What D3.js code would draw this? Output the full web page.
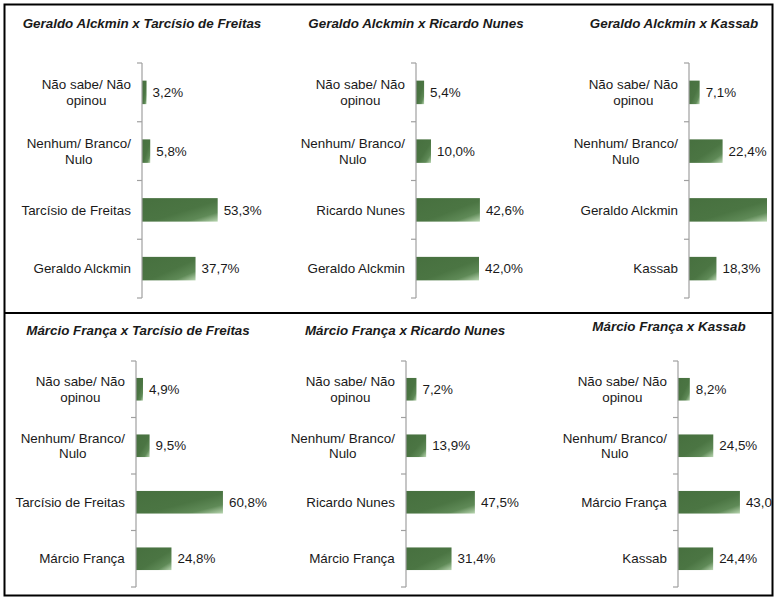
<html>
<head>
<meta charset="utf-8">
<title>Pesquisa - segundo turno</title>
<script src="https://d3js.org/d3.v7.min.js"></script>
<style>
	body { margin:0; background:#fff; }
	svg text { font-family: "Liberation Sans", Arial, sans-serif; fill:#1a1a1a; }
	.title { font-weight:bold; font-style:italic; font-size:13.4px; }
	.cat, .val { font-size:13.4px; }
</style>
</head>
<body>
<svg width=777 height=599></svg>
<script>

// ---- data ----
var titles = [
	"Geraldo Alckmin x Tarcísio de Freitas",
	"Geraldo Alckmin x Ricardo Nunes",
	"Geraldo Alckmin x Kassab",
	"Márcio França x Tarcísio de Freitas",
	"Márcio França x Ricardo Nunes",
	"Márcio França x Kassab"
];
var categories = [
	["Não sabe/ Não\nopinou", "Nenhum/ Branco/\nNulo", "Tarcísio de Freitas", "Geraldo Alckmin"],
	["Não sabe/ Não\nopinou", "Nenhum/ Branco/\nNulo", "Ricardo Nunes", "Geraldo Alckmin"],
	["Não sabe/ Não\nopinou", "Nenhum/ Branco/\nNulo", "Geraldo Alckmin", "Kassab"],
	["Não sabe/ Não\nopinou", "Nenhum/ Branco/\nNulo", "Tarcísio de Freitas", "Márcio França"],
	["Não sabe/ Não\nopinou", "Nenhum/ Branco/\nNulo", "Ricardo Nunes", "Márcio França"],
	["Não sabe/ Não\nopinou", "Nenhum/ Branco/\nNulo", "Márcio França", "Kassab"]
];
var values = [
	[3.2, 5.8, 53.3, 37.7],
	[5.4, 10.0, 42.6, 42.0],
	[7.1, 22.4, 52.0, 18.3],
	[4.9, 9.5, 60.8, 24.8],
	[7.2, 13.9, 47.5, 31.4],
	[8.2, 24.5, 43.0, 24.4]
];

// ---- layout (per panel) ----
var panels = [
	{axisX:142, top:63,  bottom:298, width:142, titleX:142, titleY:28},
	{axisX:416, top:63,  bottom:298, width:150, titleX:416, titleY:28},
	{axisX:689, top:63,  bottom:298, width:150, titleX:674, titleY:28},
	{axisX:136, top:361, bottom:587, width:143, titleX:138, titleY:335},
	{axisX:406, top:361, bottom:587, width:145, titleX:405, titleY:335},
	{axisX:678, top:361, bottom:587, width:144, titleX:669, titleY:331}
];

var svg = d3.select("svg");

var defs = svg.append("defs");
var grad = defs.append("linearGradient").attr("id", "barGrad")
	.attr("x1", "0").attr("y1", "0").attr("x2", "1").attr("y2", "1");
grad.append("stop").attr("offset", "0").attr("stop-color", "#47703f");
grad.append("stop").attr("offset", "0.55").attr("stop-color", "#4b7543");
grad.append("stop").attr("offset", "0.8").attr("stop-color", "#5f8a57");
grad.append("stop").attr("offset", "1").attr("stop-color", "#b9d6b1");

defs.append("clipPath").attr("id", "frame")
	.append("rect").attr("x", 5).attr("y", 5).attr("width", 767).attr("height", 590);

var fmt = function (v){ return d3.format(".1f")(v).replace(".", ",") + "%"; };

var g = svg.append("g").attr("clip-path", "url(#frame)");

panels.forEach(function (p, k){
	var cats = categories[k];
	var vals = values[k];

	var y = d3.scaleBand().domain(d3.range(cats.length)).range([p.top, p.bottom]).paddingInner(0.6).paddingOuter(0.3);
	var x = d3.scaleLinear().domain([0, 100]).range([p.axisX, p.axisX + p.width]);

	var pg = g.append("g");

	pg.append("text").attr("class", "title")
		.attr("x", p.titleX).attr("y", p.titleY)
		.attr("text-anchor", "middle")
		.text(titles[k]);

	pg.selectAll(".bar").data(vals).enter()
		.append("rect")
		.attr("x", x(0))
		.attr("y", function (d,i){ return y(i) })
		.attr("width", function (d){ return x(d) - x(0) })
		.attr("height", y.bandwidth())
		.style("fill", "url(#barGrad)");

	pg.selectAll(".val").data(vals).enter()
		.append("text").attr("class", "val")
		.attr("x", function (d){ return x(d) + 6 })
		.attr("y", function (d,i){ return y(i) + y.bandwidth()/2 })
		.attr("dy", "0.35em")
		.text(fmt);

	// axis line with ticks on band boundaries
	var step = (p.bottom - p.top) / cats.length;
	pg.append("line")
		.attr("x1", p.axisX).attr("x2", p.axisX)
		.attr("y1", p.top).attr("y2", p.bottom)
		.style("stroke", "#a0a0a0").style("stroke-width", 1.2);
	pg.selectAll(".tick").data(d3.range(cats.length + 1)).enter()
		.append("line")
		.attr("x1", p.axisX - 5).attr("x2", p.axisX)
		.attr("y1", function (i){ return p.top + i*step })
		.attr("y2", function (i){ return p.top + i*step })
		.style("stroke", "#a0a0a0").style("stroke-width", 1.2);

	// category labels: multi-line blocks, lines centred, block right-aligned to the axis
	cats.forEach(function (c, i){
		var lines = c.split("\n");
		var cy = y(i) + y.bandwidth()/2;
		var t = pg.append("text").attr("class", "cat").attr("text-anchor", "middle");
		lines.forEach(function (ln, j){
			t.append("tspan")
				.attr("x", 0)
				.attr("y", cy + (j - (lines.length - 1)/2) * 15.5)
				.attr("dy", "0.35em")
				.text(ln);
		});
		var w = t.node().getBBox().width;
		t.selectAll("tspan").attr("x", p.axisX - 11 - w/2);
	});
});

// frame
svg.append("rect").attr("x", 4.5).attr("y", 4.5).attr("width", 768).attr("height", 591)
	.style("fill", "none").style("stroke", "#000").style("stroke-width", 2);
svg.append("line").attr("x1", 4.5).attr("x2", 772.5).attr("y1", 313).attr("y2", 313)
	.style("stroke", "#000").style("stroke-width", 2);

</script>
</body>
</html>
